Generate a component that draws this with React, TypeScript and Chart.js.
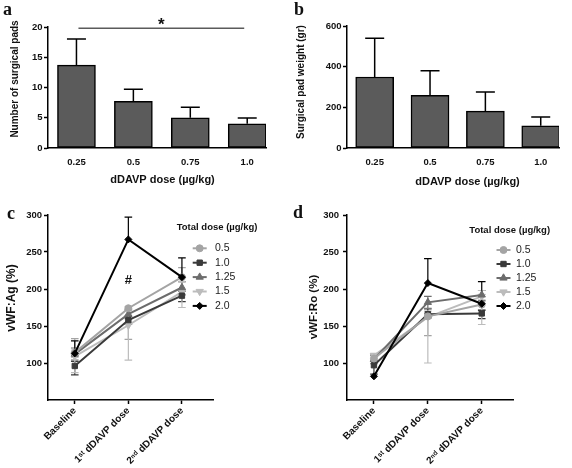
import React, { useEffect, useRef } from 'react';
import { Chart, registerables } from 'chart.js';
import { drawPoint } from 'chart.js/helpers';

Chart.register(...registerables);

// ---------- DATA ----------
const doseLabels = ['0.25', '0.5', '0.75', '1.0'];
const padsMean = [13.7, 7.7, 5.0, 4.0];
const padsSD = [4.3, 2.0, 1.75, 0.95];
const weightMean = [349, 259, 181, 109];
const weightSD = [191, 121, 95, 43];
const sigFrom = 0;
const sigTo = 3;
const sigY = 19.8;
const sigLabel = '*';

const timeLabels = ['Baseline', '1ˢᵗ dDAVP dose', '2ⁿᵈ dDAVP dose'];
const totalDoseLabels = ['0.5', '1.0', '1.25', '1.5', '2.0'];

// vWF:Ag (%)
const ag05 = [114, 174, 216];
const ag10 = [96, 158, 191];
const ag125 = [112, 166, 202];
const ag15 = [109, 151, 196];
const ag20 = [113, 267, 216];
const agUp05 = [19, 2, 13];
const agUp10 = [6, 5, 6];
const agUp125 = [8, 6, 8];
const agUp15 = [10, 20, 14];
const agUp20 = [17, 30, 26];
const agDown05 = [6, 42, 6];
const agDown10 = [12, 6, 8];
const agDown125 = [8, 6, 10];
const agDown15 = [22, 47, 21];
const agDown20 = [0, 0, 0];
const agMarkX = 1;
const agMarkY = 212;
const agMarkLabel = '#';

// vWF:Ro (%)
const ro05 = [106, 163, 179];
const ro10 = [97, 166, 167];
const ro125 = [105, 182, 192];
const ro15 = [110, 162, 190];
const ro20 = [82, 208, 180];
const roUp05 = [4, 4, 6];
const roUp10 = [6, 7, 4];
const roUp125 = [6, 8, 6];
const roUp15 = [3, 8, 8];
const roUp20 = [0, 33, 30];
const roDown05 = [4, 26, 7];
const roDown10 = [12, 5, 7];
const roDown125 = [6, 8, 8];
const roDown15 = [6, 62, 38];
const roDown20 = [0, 0, 0];

// ---------- STYLES ----------
const SANS = "'Liberation Sans', Arial, sans-serif";
const SERIF = "'Liberation Serif', 'Times New Roman', serif";
const seriesStyles = [
  { color: '#a4a4a4', pointStyle: 'circle', rotation: 0, radius: 3.5 },
  { color: '#3a3a3a', pointStyle: 'rect', rotation: 0, radius: 3.8 },
  { color: '#6c6c6c', pointStyle: 'triangle', rotation: 0, radius: 4.2 },
  { color: '#bcbcbc', pointStyle: 'triangle', rotation: 180, radius: 4.2 },
  { color: '#000000', pointStyle: 'rectRot', rotation: 0, radius: 3.5 },
];

type TextItem = {
  text: string; x: number; y: number; font: string;
  rotate?: number; align?: CanvasTextAlign; baseline?: CanvasTextBaseline; color?: string;
};

function textPlugin(items: TextItem[]) {
  return {
    id: 'texts',
    afterDraw(chart: any) {
      const ctx = chart.ctx;
      for (const t of items) {
        ctx.save();
        ctx.translate(t.x, t.y);
        if (t.rotate) ctx.rotate(t.rotate);
        ctx.font = t.font;
        ctx.fillStyle = t.color || '#111';
        ctx.textAlign = t.align || 'center';
        ctx.textBaseline = t.baseline || 'middle';
        ctx.fillText(t.text, 0, 0);
        ctx.restore();
      }
    },
  };
}

type ErrSpec = { dataset: number; up: number[]; down: number[]; color: string; width: number; cap: number };

function errorBarPlugin(specs: ErrSpec[]) {
  return {
    id: 'errbars',
    beforeDatasetsDraw(chart: any) {
      const ctx = chart.ctx;
      const xs = chart.scales.x;
      const ys = chart.scales.y;
      for (const s of specs) {
        const ds = chart.data.datasets[s.dataset];
        ds.data.forEach((pt: any, i: number) => {
          const px = xs.getPixelForValue(pt.x);
          const py = ys.getPixelForValue(pt.y);
          ctx.save();
          ctx.strokeStyle = s.color;
          ctx.lineWidth = s.width;
          const seg = (v: number) => {
            const pe = ys.getPixelForValue(v);
            ctx.beginPath();
            ctx.moveTo(px, py);
            ctx.lineTo(px, pe);
            ctx.moveTo(px - s.cap, pe);
            ctx.lineTo(px + s.cap, pe);
            ctx.stroke();
          };
          if (s.up[i] > 0) seg(pt.y + s.up[i]);
          if (s.down[i] > 0) seg(pt.y - s.down[i]);
          ctx.restore();
        });
      }
    },
  };
}

function sigPlugin() {
  return {
    id: 'sig',
    afterDraw(chart: any) {
      const ctx = chart.ctx;
      const xs = chart.scales.x;
      const ys = chart.scales.y;
      const x1 = xs.getPixelForValue(sigFrom) + 2;
      const x2 = xs.getPixelForValue(sigTo) - 3;
      const y = ys.getPixelForValue(sigY);
      ctx.save();
      ctx.strokeStyle = '#5a5a5a';
      ctx.lineWidth = 1.5;
      ctx.beginPath();
      ctx.moveTo(x1, y);
      ctx.lineTo(x2, y);
      ctx.stroke();
      ctx.font = `bold 17px ${SANS}`;
      ctx.fillStyle = '#111';
      ctx.textAlign = 'center';
      ctx.textBaseline = 'alphabetic';
      ctx.fillText(sigLabel, (x1 + x2) / 2, y + 1.5);
      ctx.restore();
    },
  };
}

function markPlugin() {
  return {
    id: 'mark',
    afterDraw(chart: any) {
      const ctx = chart.ctx;
      const px = chart.scales.x.getPixelForValue(agMarkX);
      const py = chart.scales.y.getPixelForValue(agMarkY);
      ctx.save();
      ctx.font = `bold 13px ${SANS}`;
      ctx.fillStyle = '#111';
      ctx.textAlign = 'center';
      ctx.textBaseline = 'middle';
      ctx.fillText(agMarkLabel, px, py);
      ctx.restore();
    },
  };
}

function legendPlugin(title: string, titleX: number, titleY: number, markX: number, textX: number, y0: number, dy: number) {
  return {
    id: 'customLegend',
    afterDraw(chart: any) {
      const ctx = chart.ctx;
      ctx.save();
      ctx.font = `bold 9.5px ${SANS}`;
      ctx.fillStyle = '#111';
      ctx.textAlign = 'left';
      ctx.textBaseline = 'middle';
      ctx.fillText(title, titleX, titleY);
      totalDoseLabels.forEach((lab, i) => {
        const st = seriesStyles[i];
        const y = y0 + i * dy;
        ctx.strokeStyle = st.color;
        ctx.fillStyle = st.color;
        ctx.lineWidth = 2;
        ctx.beginPath();
        ctx.moveTo(markX - 7, y);
        ctx.lineTo(markX + 7, y);
        ctx.stroke();
        ctx.lineWidth = 1;
        drawPoint(ctx, { pointStyle: st.pointStyle as any, rotation: st.rotation, radius: st.radius, borderWidth: 1 }, markX, y);
        ctx.fillStyle = '#222';
        ctx.font = `10.5px ${SANS}`;
        ctx.textAlign = 'left';
        ctx.fillText(lab, textX, y);
      });
      ctx.restore();
    },
  };
}

const tickFont = { family: SANS, size: 9.5, weight: 'bold' as const };

function barChart(canvas: HTMLCanvasElement, means: number[], sds: number[], yMax: number, yStep: number,
  L: number, R: number, T: number, XH: number, texts: TextItem[], withSig: boolean) {
  const data = means.map((v, i) => ({ x: i, y: v }));
  const plugins: any[] = [
    errorBarPlugin([{ dataset: 0, up: sds, down: sds.map(() => 0), color: '#000', width: 1.5, cap: 9.5 }]),
    textPlugin(texts),
  ];
  if (withSig) plugins.push(sigPlugin());
  return new Chart(canvas, {
    type: 'bar',
    data: {
      datasets: [{
        data: data as any,
        backgroundColor: '#5b5b5b',
        borderColor: '#000',
        borderWidth: 1.5,
        borderSkipped: false,
        barThickness: 38,
      }],
    },
    options: {
      animation: false,
      responsive: false,
      events: [],
      layout: { padding: { left: 0, right: R, top: T, bottom: 0 } },
      plugins: { legend: { display: false }, tooltip: { enabled: false } },
      scales: {
        x: {
          type: 'linear',
          min: -0.5,
          max: 3.33,
          offset: false,
          afterBuildTicks: (s: any) => { s.ticks = doseLabels.map((_, i) => ({ value: i })); },
          afterFit: (s: any) => { s.height = XH; },
          grid: { display: true, drawOnChartArea: false, drawTicks: false, offset: false },
          border: { display: true, color: '#000', width: 1.5 },
          ticks: {
            callback: (v: any) => doseLabels[v] ?? '',
            font: tickFont, color: '#111', padding: 8.5, maxRotation: 0, minRotation: 0, autoSkip: false,
          },
        },
        y: {
          min: 0,
          max: yMax,
          afterFit: (s: any) => { s.width = L; },
          grid: { drawOnChartArea: false, tickLength: 4, color: '#000', tickWidth: 1.5 },
          border: { display: true, color: '#000', width: 1.5 },
          ticks: { stepSize: yStep, font: tickFont, color: '#111', padding: 1.5 },
        },
      },
    },
    plugins,
  } as any);
}

function lineChart(canvas: HTMLCanvasElement, series: number[][], ups: number[][], downs: number[][],
  L: number, R: number, T: number, XH: number, yPad: number, texts: TextItem[], extra: any[]) {
  const datasets = series.map((vals, si) => {
    const st = seriesStyles[si];
    return {
      data: vals.map((v, i) => ({ x: i, y: v })),
      borderColor: st.color,
      backgroundColor: st.color,
      borderWidth: 2,
      pointStyle: st.pointStyle,
      pointRotation: st.rotation,
      pointRadius: st.radius,
      pointBorderWidth: 1,
      pointBackgroundColor: st.color,
      pointBorderColor: st.color,
      tension: 0,
      order: si === 4 ? 0 : si + 1,
    };
  });
  const specs: ErrSpec[] = series.map((_, si) => ({
    dataset: si, up: ups[si], down: downs[si], color: seriesStyles[si].color, width: 1.2, cap: 3.8,
  }));
  return new Chart(canvas, {
    type: 'line',
    data: { datasets: datasets as any },
    options: {
      animation: false,
      responsive: false,
      events: [],
      layout: { padding: { left: 0, right: R, top: T, bottom: 0 } },
      plugins: { legend: { display: false }, tooltip: { enabled: false } },
      scales: {
        x: {
          type: 'linear',
          min: -0.5,
          max: 2.58,
          offset: false,
          afterBuildTicks: (s: any) => { s.ticks = timeLabels.map((_, i) => ({ value: i })); },
          afterFit: (s: any) => { s.height = XH; },
          grid: { display: true, drawOnChartArea: false, drawTicks: true, tickLength: 4, color: '#000', tickWidth: 1.5, offset: false },
          border: { display: true, color: '#000', width: 1.5 },
          ticks: {
            callback: (v: any) => timeLabels[v] ?? '',
            font: { family: SANS, size: 10, weight: 'bold' }, color: '#111', padding: 1,
            maxRotation: 45, minRotation: 45, autoSkip: false,
          },
        },
        y: {
          min: 50,
          max: 300,
          afterBuildTicks: (s: any) => { s.ticks = [100, 150, 200, 250, 300].map((v) => ({ value: v })); },
          afterFit: (s: any) => { s.width = L; },
          grid: { drawOnChartArea: false, tickLength: 4, color: '#000', tickWidth: 1.5 },
          border: { display: true, color: '#000', width: 1.5 },
          ticks: { font: tickFont, color: '#111', padding: yPad },
        },
      },
    },
    plugins: [errorBarPlugin(specs), textPlugin(texts), ...extra],
  } as any);
}

export default function App() {
  const aRef = useRef<HTMLCanvasElement>(null);
  const bRef = useRef<HTMLCanvasElement>(null);
  const cRef = useRef<HTMLCanvasElement>(null);
  const dRef = useRef<HTMLCanvasElement>(null);

  useEffect(() => {
    const rot = -Math.PI / 2;
    const labelFont = `bold 18px ${SERIF}`;
    const titleFont = `bold 10px ${SANS}`;
    const xTitleFont = `bold 11px ${SANS}`;

    const a = barChart(aRef.current!, padsMean, padsSD, 20, 5, 48, 20, 27, 52, [
      { text: 'a', x: 3, y: 15, font: labelFont, align: 'left', baseline: 'alphabetic' },
      { text: 'Number of surgical pads', x: 15, y: 79, font: titleFont, rotate: rot },
      { text: 'dDAVP dose (µg/kg)', x: 162.5, y: 180, font: xTitleFont },
    ], true);

    const b = barChart(bRef.current!, weightMean, weightSD, 600, 200, 61, 13, 26, 52, [
      { text: 'b', x: 8, y: 15, font: labelFont, align: 'left', baseline: 'alphabetic' },
      { text: 'Surgical pad weight (gr)', x: 15, y: 82, font: titleFont, rotate: rot },
      { text: 'dDAVP dose (µg/kg)', x: 181.5, y: 181.7, font: xTitleFont },
    ], false);

    const c = lineChart(cRef.current!,
      [ag05, ag10, ag125, ag15, ag20],
      [agUp05, agUp10, agUp125, agUp15, agUp20],
      [agDown05, agDown10, agDown125, agDown15, agDown20],
      48, 73, 15, 68, 2, [
        { text: 'c', x: 7, y: 18.5, font: labelFont, align: 'left', baseline: 'alphabetic' },
        { text: 'vWF:Ag (%)', x: 12, y: 98, font: `bold 12px ${SANS}`, rotate: rot },
      ], [markPlugin(), legendPlugin('Total dose (µg/kg)', 176.7, 27.3, 199.7, 215, 48.3, 14.4)]);

    const d = lineChart(dRef.current!,
      [ro05, ro10, ro125, ro15, ro20],
      [roUp05, roUp10, roUp125, roUp15, roUp20],
      [roDown05, roDown10, roDown125, roDown15, roDown20],
      61, 59, 15, 68, 4, [
        { text: 'd', x: 7, y: 18, font: labelFont, align: 'left', baseline: 'alphabetic' },
        { text: 'vWF:Ro (%)', x: 27.5, y: 107, font: `bold 11.5px ${SANS}`, rotate: rot },
      ], [legendPlugin('Total dose (µg/kg)', 183.3, 30.7, 217.5, 230, 50, 14)]);

    return () => { a.destroy(); b.destroy(); c.destroy(); d.destroy(); };
  }, []);

  const cv = (left: number, top: number, w: number, h: number): React.CSSProperties => ({
    position: 'absolute', left, top, width: w, height: h, display: 'block',
  });

  return (
    <div style={{ position: 'absolute', left: 0, top: 0, width: 572, height: 468, background: '#fff' }}>
      <canvas ref={aRef} width={286} height={200} style={cv(0, 0, 286, 200)} />
      <canvas ref={bRef} width={286} height={200} style={cv(286, 0, 286, 200)} />
      <canvas ref={cRef} width={286} height={268} style={cv(0, 200, 286, 268)} />
      <canvas ref={dRef} width={286} height={268} style={cv(286, 200, 286, 268)} />
    </div>
  );
}
